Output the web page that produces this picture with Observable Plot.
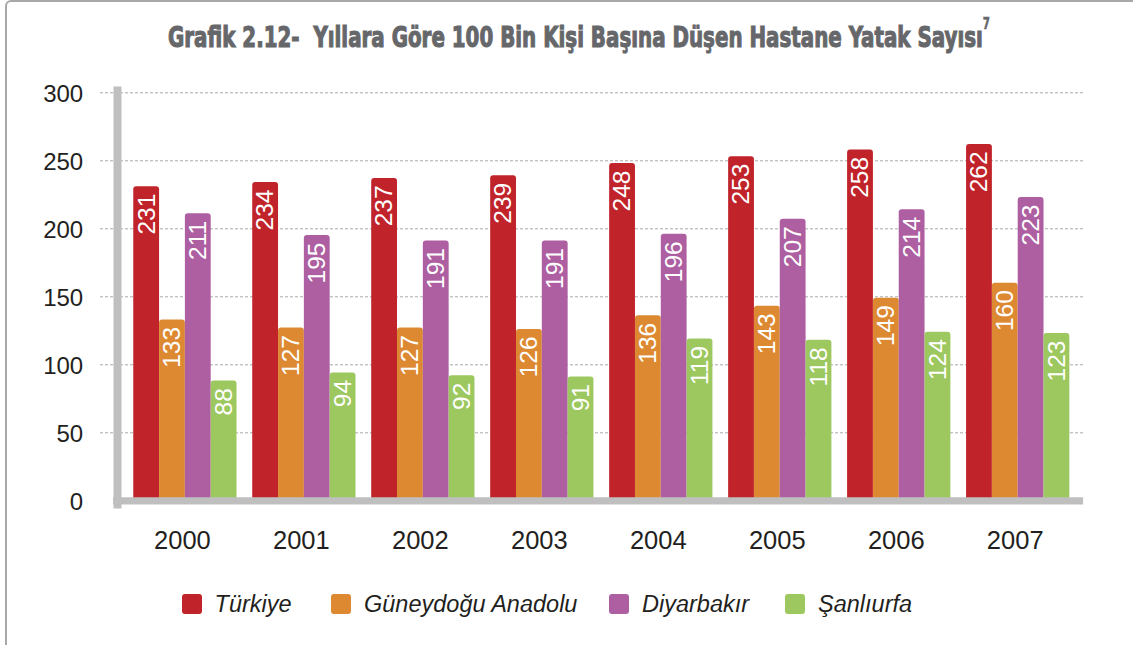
<!DOCTYPE html>
<html><head><meta charset="utf-8">
<script src="https://cdn.jsdelivr.net/npm/d3@7"></script>
<script src="https://cdn.jsdelivr.net/npm/@observablehq/plot@0.6"></script>
<style>
html,body{margin:0;padding:0;background:#fff;}
#wrap{position:relative;width:1133px;height:645px;overflow:hidden;font-family:"Liberation Sans",Arial,sans-serif;}
#frame{position:absolute;left:5px;top:0;width:1200px;height:700px;border-top:2px solid #a8a8a8;border-left:2px solid #a8a8a8;border-top-left-radius:6px;box-sizing:border-box;}
#title{position:absolute;top:23px;left:168px;white-space:nowrap;font-family:"Liberation Sans Narrow","DejaVu Sans Condensed",sans-serif;font-weight:bold;font-size:29px;line-height:29px;color:#66676a;transform-origin:0 0;-webkit-text-stroke:1.1px #66676a;}
#title sup{font-size:15px;line-height:0;vertical-align:top;position:relative;top:1px;-webkit-text-stroke:0.5px #66676a;}
.chart{position:absolute;left:0;top:80px;}
.li{position:absolute;top:592px;display:flex;align-items:center;font-style:italic;font-size:23.5px;color:#231f20;line-height:24px;white-space:nowrap;}
.sw{width:20px;height:20px;border-radius:3px;margin-right:13px;}
</style>
</head><body>
<div id="wrap">
  <div id="frame"></div>
  <div id="title">Grafik 2.12-&nbsp; Yıllara Göre 100 Bin Kişi Başına Düşen Hastane Yatak Sayısı<sup>7</sup></div>
  <div id="back" class="chart"></div>
  <div id="front" class="chart"></div>
  <div id="over" class="chart"></div>
  <div id="legend"></div>
</div>
<script>
const years = ["2000","2001","2002","2003","2004","2005","2006","2007"];
const series = ["Türkiye","Güneydoğu Anadolu","Diyarbakır","Şanlıurfa"];
const turkiye = [231,234,237,239,248,253,258,262];
const guneydogu = [133,127,127,126,136,143,149,160];
const diyarbakir = [211,195,191,191,196,207,214,223];
const sanliurfa = [88,94,92,91,119,118,124,123];
const colors = ["#c1232b","#dd8932","#ad5fa1","#9dc75f"];
const yTicks = [0,50,100,150,200,250,300];
const gridTicks = [50,100,150,200,250,300];
const legendLeft = [181.6,331,609,785];

// fit title to reference width
const titleEl = document.getElementById("title");
const titleW = titleEl.getBoundingClientRect().width;
titleEl.style.transform = "scaleX(" + (822 / titleW) + ")";

// legend
const legendEl = document.getElementById("legend");
series.forEach((s,i) => {
  const item = document.createElement("div");
  item.className = "li";
  item.style.left = legendLeft[i] + "px";
  const sw = document.createElement("div");
  sw.className = "sw";
  sw.style.background = colors[i];
  item.appendChild(sw);
  const t = document.createElement("span");
  t.textContent = s;
  item.appendChild(t);
  legendEl.appendChild(item);
});

const seriesValues = [turkiye, guneydogu, diyarbakir, sanliurfa];
const data = years.flatMap((yr,i) => series.map((s,j) => ({year: yr, series: s, value: seriesValues[j][i]})));

const common = {
  width: 1133, height: 480,
  marginTop: 12.3, marginBottom: 59.7, marginLeft: 121, marginRight: 51.4,
  style: {fontFamily: '"Liberation Sans", Arial, sans-serif', color: "#231f20", background: "transparent", overflow: "visible"}
};

// background: grid, left axis bar, y tick labels
const backPlot = Plot.plot({
  ...common,
  y: {domain: [0,300]},
  marks: [
    Plot.ruleY(gridTicks, {stroke: "#aaa", strokeDasharray: "3,2", insetLeft: -21, insetRight: -1.5}),
    Plot.frame({anchor: "left", stroke: "#bfbfbf", strokeWidth: 8, insetLeft: -4, insetTop: -2.3, insetBottom: -3.6}),
    Plot.axisY({ticks: yTicks, tickSize: 0, tickPadding: 38.3, fontSize: 24, dy: 1.5, label: null})
  ]
});
document.getElementById("back").appendChild(backPlot);

// middle: grouped bars
const barPlot = Plot.plot({
  ...common,
  fx: {domain: years, paddingInner: 0.132, paddingOuter: 0.103, round: false, label: null},
  x: {domain: series, padding: 0, round: false, axis: null},
  y: {domain: [0,300], axis: null},
  color: {domain: series, range: colors},
  marks: [
    Plot.barY(data, {fx: "year", x: "series", y: "value", fill: "series", rx: 3}),
    Plot.text(data, {fx: "year", x: "series", y: "value", text: d => String(d.value), rotate: -90, textAnchor: "end", lineAnchor: "middle", dy: 7, fill: "white", fontSize: 24.5}),
    Plot.axisFx({anchor: "bottom", tickSize: 0, tickPadding: 30, fontSize: 25.5, dx: -3, label: null})
  ]
});
document.getElementById("front").appendChild(barPlot);

// top layer: bottom axis band over the bar bases
const bandPlot = Plot.plot({
  ...common,
  y: {domain: [0,300], axis: null},
  marks: [
    Plot.ruleY([0], {stroke: "#bfbfbf", strokeWidth: 7.3, insetLeft: -8, insetRight: -1.5})
  ]
});
document.getElementById("over").appendChild(bandPlot);
</script>
</body></html>
